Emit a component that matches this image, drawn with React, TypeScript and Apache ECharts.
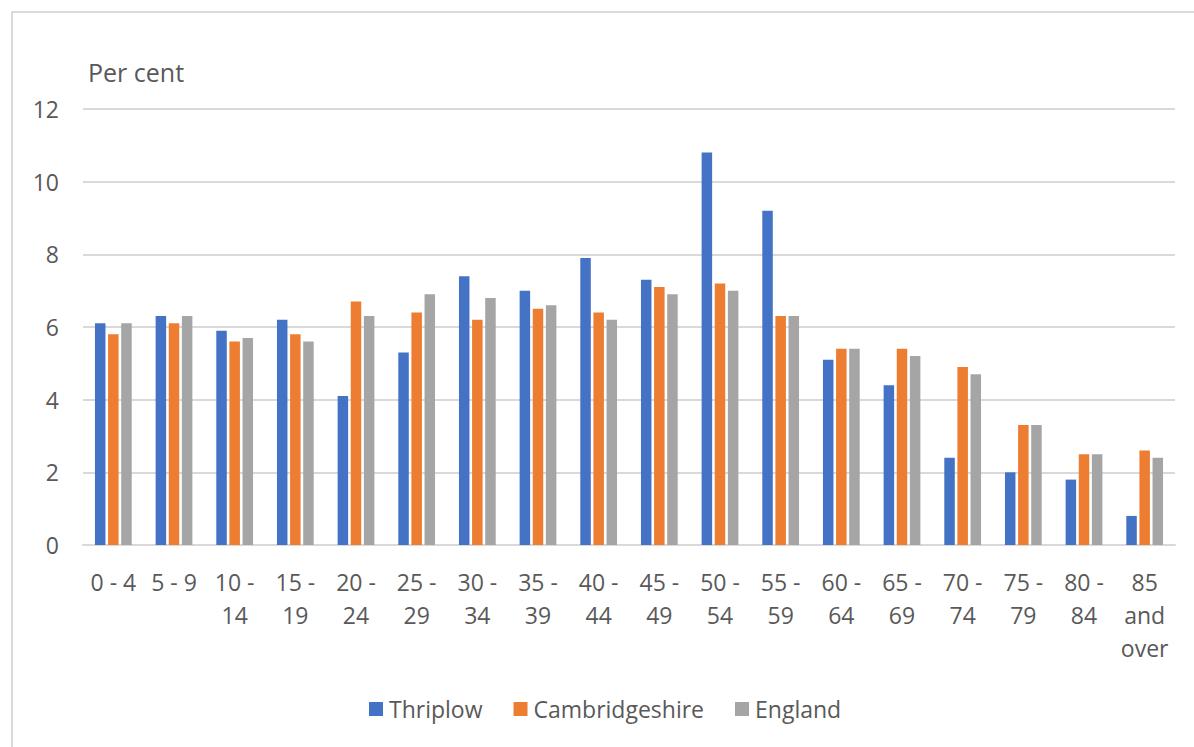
import React, { useEffect, useRef } from "react";
import * as echarts from "echarts";

// Age bands shown along the category axis
const ageBands: string[] = [
  "0 - 4", "5 - 9", "10 - 14", "15 - 19", "20 - 24", "25 - 29", "30 - 34",
  "35 - 39", "40 - 44", "45 - 49", "50 - 54", "55 - 59", "60 - 64",
  "65 - 69", "70 - 74", "75 - 79", "80 - 84", "85 and over",
];

// Share of population in each age band (per cent)
const thriplow: number[] = [
  6.1, 6.3, 5.9, 6.2, 4.1, 5.3, 7.4, 7.0, 7.9, 7.3, 10.8, 9.2, 5.1, 4.4, 2.4, 2.0, 1.8, 0.8,
];
const cambridgeshire: number[] = [
  5.8, 6.1, 5.6, 5.8, 6.7, 6.4, 6.2, 6.5, 6.4, 7.1, 7.2, 6.3, 5.4, 5.4, 4.9, 3.3, 2.5, 2.6,
];
const england: number[] = [
  6.1, 6.3, 5.7, 5.6, 6.3, 6.9, 6.8, 6.6, 6.2, 6.9, 7.0, 6.3, 5.4, 5.2, 4.7, 3.3, 2.5, 2.4,
];

const seriesNames: string[] = ["Thriplow", "Cambridgeshire", "England"];
const seriesColors: string[] = ["#4472C4", "#ED7D31", "#A5A5A5"];

const FONT = "'Open Sans', 'Noto Sans', sans-serif";
const TEXT_COLOR = "#595959";
const GRID_COLOR = "#d9d9d9";

// Wrap a category label greedily so that each line stays short
function wrapLabel(label: string): string {
  const words = label.split(" ");
  const lines: string[] = [];
  let current = "";
  for (const w of words) {
    if (current === "") {
      current = w;
    } else if ((current + " " + w).length <= 5) {
      current = current + " " + w;
    } else {
      lines.push(current);
      current = w;
    }
  }
  if (current) lines.push(current);
  return lines.join("\n");
}

export default function App() {
  const ref = useRef<HTMLDivElement>(null);

  useEffect(() => {
    if (!ref.current) return;
    const chart = echarts.init(ref.current, undefined, { renderer: "svg" });
    const allSeries = [thriplow, cambridgeshire, england];

    chart.setOption({
      animation: false,
      backgroundColor: "#ffffff",
      textStyle: { fontFamily: FONT },
      graphic: [
        {
          type: "rect",
          shape: { x: 12, y: 12, width: 1400, height: 1000 },
          style: { fill: "none", stroke: GRID_COLOR, lineWidth: 2 },
          silent: true,
        },
        {
          type: "text",
          x: 88,
          y: 72,
          style: {
            text: "Per cent",
            fontFamily: FONT,
            fontSize: 25,
            fill: TEXT_COLOR,
            verticalAlign: "middle",
          },
        },
      ],
      legend: {
        left: 369,
        top: 695,
        padding: 0,
        itemWidth: 14,
        itemHeight: 14,
        itemGap: 31,
        icon: "rect",
        data: seriesNames,
        textStyle: {
          fontFamily: FONT,
          fontSize: 23,
          color: TEXT_COLOR,
          lineHeight: 28,
          padding: [0, 0, 0, 1],
        },
      },
      grid: {
        left: 83,
        right: 19,
        top: 109,
        bottom: 202,
        containLabel: false,
      },
      xAxis: {
        type: "category",
        data: ageBands,
        axisLine: { show: true, lineStyle: { color: GRID_COLOR, width: 2 } },
        axisTick: { show: false },
        axisLabel: {
          interval: 0,
          margin: 20,
          fontFamily: FONT,
          fontSize: 23,
          lineHeight: 33,
          color: TEXT_COLOR,
          formatter: (v: string) => wrapLabel(v),
        },
      },
      yAxis: {
        type: "value",
        min: 0,
        max: 12,
        interval: 2,
        axisLine: { show: false },
        axisTick: { show: false },
        splitLine: { lineStyle: { color: GRID_COLOR, width: 2 } },
        axisLabel: {
          margin: 24,
          fontFamily: FONT,
          fontSize: 23,
          color: TEXT_COLOR,
        },
      },
      series: seriesNames.map((name, i) => ({
        name,
        type: "bar",
        data: allSeries[i],
        barWidth: 10.5,
        barGap: "25%",
        itemStyle: { color: seriesColors[i] },
      })),
    });

    return () => chart.dispose();
  }, []);

  return (
    <div
      ref={ref}
      style={{ position: "fixed", left: 0, top: 0, width: 1194, height: 747 }}
    />
  );
}
